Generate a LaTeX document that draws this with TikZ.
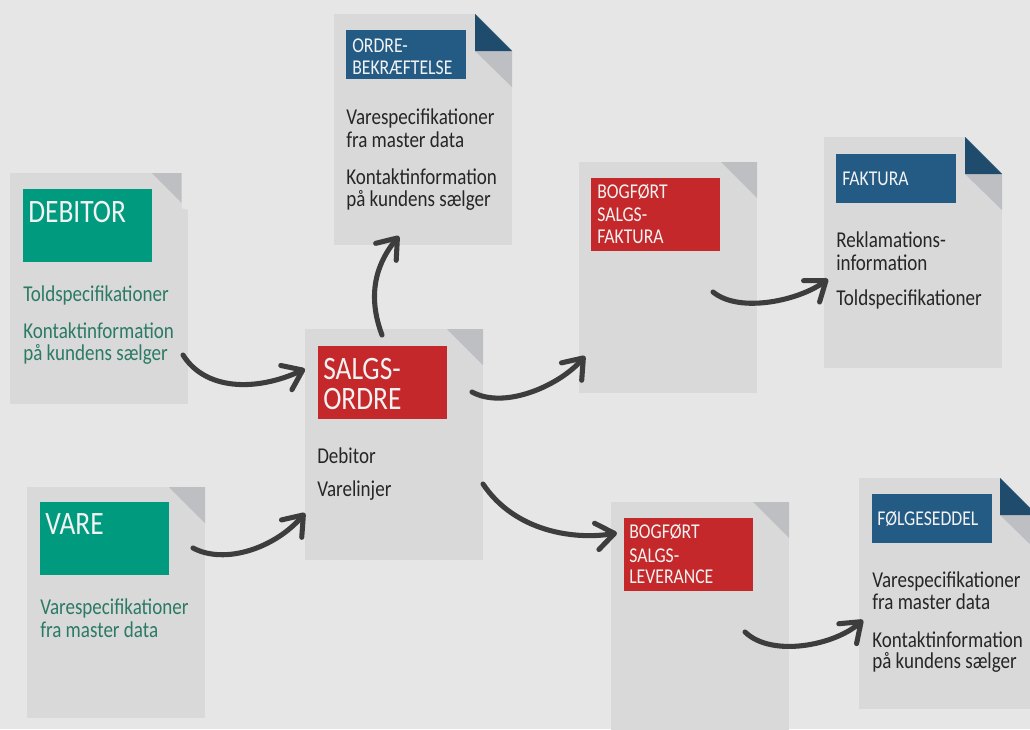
\documentclass[tikz,border=0pt]{standalone}
\usepackage{fontspec}
\setmainfont{Carlito}[FakeStretch=0.84]
\usetikzlibrary{arrows.meta,calc}
\definecolor{bgc}{HTML}{E6E6E6}
\definecolor{pagec}{HTML}{D9D9D9}
\definecolor{foldc}{HTML}{BEBFC2}
\definecolor{redc}{HTML}{C4282A}
\definecolor{greenc}{HTML}{009B7E}
\definecolor{bluec}{HTML}{245B85}
\definecolor{bluefold}{HTML}{1F4C6C}
\definecolor{arrc}{HTML}{3C3D3C}
\definecolor{bodyc}{HTML}{262626}
\definecolor{gtxt}{HTML}{2B7A64}
\definecolor{hdrtc}{HTML}{F2F2F2}
\newcommand\Tline[4]{\node[#1] (#2) at (#3) {#4};}
\newcommand\grayfold[1]{\fill[foldc] ($(#1.north east)+(-36,0)$) -- (#1.north east) -- ($(#1.north east)+(0,36)$) -- cycle;}
\newcommand\bluefoldc[1]{%
  \fill[bgc] ($(#1.north east)+(-37,-1)$) -- ($(#1.north east)+(1,-1)$) -- ($(#1.north east)+(1,37)$) -- cycle;
  \fill[foldc] ($(#1.north east)+(-37,37)$) -- ($(#1.north east)+(0,37)$) -- ($(#1.north east)+(0,73)$) -- cycle;
  \fill[bluefold] ($(#1.north east)+(-37,0)$) -- ($(#1.north east)+(-37,37)$) -- ($(#1.north east)+(0,37)$) -- cycle;}
\begin{document}
\begin{tikzpicture}[x=0.75pt,y=-0.75pt,
  page/.style={fill=pagec, draw=none, inner sep=0pt, outer sep=0pt, anchor=north west, minimum width=133.5pt, minimum height=173.25pt},
  hdrbig/.style={inner sep=0pt, outer sep=0pt, anchor=north west, minimum width=96.75pt, minimum height=54.75pt},
  hdrblue/.style={fill=bluec, inner sep=0pt, outer sep=0pt, anchor=north west, minimum width=90pt, minimum height=36.75pt},
  bigtxt/.style={text=hdrtc, anchor=base west, inner sep=0pt, text height=16.5pt, text depth=0pt, font=\fontsize{24.5pt}{24.5pt}\selectfont},
  smtxt/.style={text=hdrtc, anchor=base west, inner sep=0pt, text height=11pt, text depth=0pt, font=\fontsize{15.8pt}{15.8pt}\selectfont},
  body/.style={text=bodyc, anchor=base west, inner sep=0pt, font=\fontsize{17pt}{17pt}\selectfont},
  gbody/.style={body, text=gtxt},
  arr/.style={draw=arrc, line width=3.8pt, line cap=round, -{Straight Barb[length=13.5pt,width=20pt,round]}}
]
\useasboundingbox (0,0) rectangle (1030,729);
\clip (0,0) rectangle (1030,729);
\fill[bgc] (0,0) rectangle (1030,729);

% pages
\node[page] (deb) at (10,173) {};
\grayfold{deb}
\fill[bgc] (181.7,172) -- (189,172) -- (189,210) -- (181.7,208.3) -- cycle;
\node[page] (ob) at (334,14) {};
\bluefoldc{ob}
\node[page] (so) at (305,329) {};
\grayfold{so}
\node[page] (vare) at (27,487) {};
\grayfold{vare}
\node[page] (bsf) at (579,162) {};
\grayfold{bsf}
\node[page] (fak) at (824,137) {};
\bluefoldc{fak}
\node[page, minimum height=190pt] (bsl) at (611,502) {};
\grayfold{bsl}
\node[page] (fs) at (859,478) {};
\bluefoldc{fs}

% headers
\node[hdrbig, fill=greenc] (debh) at (23,189) {};
\Tline{bigtxt}{debt}{28,222}{DEBITOR}
\node[hdrblue] (obh) at (346,30) {};
\Tline{smtxt}{obt1}{352,52}{ORDRE-}
\Tline{smtxt}{obt2}{352,74}{BEKRÆFTELSE}
\node[hdrbig, fill=redc] (soh) at (318,346) {};
\Tline{bigtxt}{sot1}{323,379}{SALGS-}
\Tline{bigtxt}{sot2}{323,409}{ORDRE}
\node[hdrbig, fill=greenc] (vareh) at (40,502) {};
\Tline{bigtxt}{varet}{45,534}{VARE}
\node[hdrbig, fill=redc] (bsfh) at (591,178) {};
\Tline{smtxt}{bsft1}{597,198}{BOGFØRT}
\Tline{smtxt}{bsft2}{597,221}{SALGS-}
\Tline{smtxt}{bsft3}{597,243}{FAKTURA}
\node[hdrblue] (fakh) at (836,154) {};
\Tline{smtxt}{fakt}{842,185}{FAKTURA}
\node[hdrbig, fill=redc] (bslh) at (624,518) {};
\Tline{smtxt}{bslt1}{629,538}{BOGFØRT}
\Tline{smtxt}{bslt2}{629,562}{SALGS-}
\Tline{smtxt}{bslt3}{629,583}{LEVERANCE}
\node[hdrblue] (fsh) at (872,494) {};
\Tline{smtxt}{fst}{877,525}{FØLGESEDDEL}

% body texts
\Tline{gbody}{deb1}{23,301}{Toldspecifikationer}
\Tline{gbody}{deb2}{23,338}{Kontaktinformation}
\Tline{gbody}{deb3}{23,360}{på kundens sælger}
\Tline{body}{ob1}{346,124}{Varespecifikationer}
\Tline{body}{ob2}{346,147}{fra master data}
\Tline{body}{ob3}{346,184}{Kontaktinformation}
\Tline{body}{ob4}{346,206}{på kundens sælger}
\Tline{body}{so1}{317,463}{Debitor}
\Tline{body}{so2}{317,496}{Varelinjer}
\Tline{gbody}{vare1}{40,614}{Varespecifikationer}
\Tline{gbody}{vare2}{40,637}{fra master data}
\Tline{body}{fak1}{836,247}{Reklamations-}
\Tline{body}{fak2}{836,270}{information}
\Tline{body}{fak3}{836,305}{Toldspecifikationer}
\Tline{body}{fs1}{872,587}{Varespecifikationer}
\Tline{body}{fs2}{872,609}{fra master data}
\Tline{body}{fs3}{872,647}{Kontaktinformation}
\Tline{body}{fs4}{872,668}{på kundens sælger}

% connector end points
\coordinate (a0) at (183,355);  \coordinate (a1) at (305,369);
\coordinate (b0) at (193,548);  \coordinate (b1) at (305,513);
\coordinate (c0) at (382,335);  \coordinate (c1) at (399,236);
\coordinate (d0) at (472,392);  \coordinate (d1) at (585,356);
\coordinate (e0) at (483,484);  \coordinate (e1) at (617,533);
\coordinate (f0) at (713,292);  \coordinate (f1) at (828,279);
\coordinate (g0) at (745,632);  \coordinate (g1) at (863,620);

\draw[arr] (a0) .. controls (205,390) and (255,392) .. (a1);
\draw[arr] (b0) .. controls (225,565) and (275,548) .. (b1);
\draw[arr] (c0) .. controls (365,290) and (380,259) .. (c1);
\draw[arr] (d0) .. controls (505,410) and (560,385) .. (d1);
\draw[arr] (e0) .. controls (515,532) and (575,540) .. (e1);
\draw[arr] (f0) .. controls (740,314) and (800,300) .. (f1);
\draw[arr] (g0) .. controls (772,658) and (835,645) .. (g1);
\end{tikzpicture}
\end{document}
